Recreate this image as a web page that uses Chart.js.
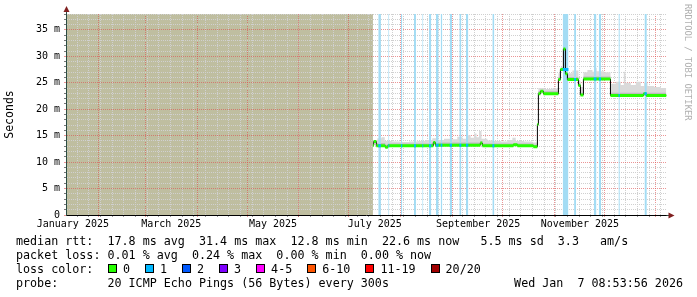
<!DOCTYPE html>
<html>
<head>
<meta charset="utf-8">
<script src="https://cdn.jsdelivr.net/npm/chart.js@4.4.1/dist/chart.umd.min.js"></script>
<style>
  body { margin: 0; background: #fff; }
  #wrap { position: relative; width: 697px; height: 297px; overflow: hidden; }
  canvas { position: absolute; left: 0; top: 0; }
  .txt { position: absolute; left: 16px; font-family: "DejaVu Sans Mono", monospace; font-size: 11.7px; line-height: 14px; white-space: pre; color: #000; }
  .box { display: inline-block; width: 7px; height: 7px; border: 1px solid #000; margin-left: 15px; }
  .lbl { margin-left: 6px; }
  #mark { position: absolute; left: 683px; top: 4px; writing-mode: vertical-rl; font-family: "DejaVu Sans Mono", monospace; font-size: 8.8px; line-height: 9px; color: #b0b0b0; white-space: pre; }
</style>
</head>
<body>
<div id="wrap">
  <canvas id="myChart" width="697" height="297"></canvas>
  <div id="mark">RRDTOOL / TOBI OETIKER</div>
  <div class="txt" style="top:234px">median rtt:  17.8 ms avg  31.4 ms max  12.8 ms min  22.6 ms now   5.5 ms sd  3.3   am/s</div>
  <div class="txt" style="top:248px">packet loss: 0.01 % avg  0.24 % max  0.00 % min  0.00 % now</div>
  <div class="txt" id="lossRow" style="top:262px">loss color:</div>
  <div class="txt" style="top:276px">probe:       20 ICMP Echo Pings (56 Bytes) every 300s</div>
  <div class="txt" style="top:276px; left:auto; right:14px">Wed Jan  7 08:53:56 2026</div>
</div>
<script>
// x values are days since 2025-01-01, y values are milliseconds
let viewStart = 11.4;
let viewEnd = 371.4;
let unknownEnd = 195.4; // nothing recorded before this
let yMax = 38;

// median rtt, one value per step (value holds until the next day)
let medianDays = [195.4, 195.9, 197.4, 202.8, 204.3, 231.6, 232.8, 259.8, 261.0, 279.6, 282.0, 291.6,
  294.0, 294.6, 295.8, 297.6, 306.6, 307.8, 309.6, 310.8, 312.0, 318.6, 319.8, 321.6, 337.8, 357.6, 359.2];
let medianMs = [13.2, 13.9, 13.1, 12.8, 13.1, 13.7, 13.2, 13.6, 13.1, 13.3, 13.1, 12.9,
  17.1, 22.9, 23.4, 22.9, 25.6, 27.5, 31.4, 26.7, 25.6, 24.5, 22.7, 25.7, 22.6, 22.9, 22.6];

// smoke (spread of the 20 pings) upper edge
let smokeDays = [195.4, 198, 200.5, 202.5, 207, 212, 217, 222, 227, 231, 234, 238, 242, 246, 249, 252, 254, 256,
  257.5, 259, 260.5, 264, 268, 272, 276, 279, 281, 286, 291, 294, 294.6, 298, 302, 306.6, 308, 309.6, 310.8,
  312, 315, 318.6, 319.8, 321.6, 324, 327, 328.5, 329.5, 331, 334, 337.8, 341, 344, 345.8, 346.8, 350, 353,
  356, 358, 360, 364, 368];
let smokeTop = [14.2, 14.5, 14.7, 14.0, 13.9, 13.8, 13.9, 14.0, 14.2, 14.5, 14.2, 14.4, 14.3, 14.8, 14.4, 15.1, 14.6, 15.4,
  14.7, 15.9, 14.4, 14.1, 14.0, 13.9, 14.2, 14.6, 14.0, 13.9, 13.7, 17.3, 24.0, 23.8, 23.9, 26.8, 28.0, 32.6, 27.5,
  26.8, 27.3, 25.4, 24.2, 27.0, 27.4, 27.1, 27.8, 27.2, 27.2, 27.0, 24.8, 25.2, 24.6, 27.1, 25.0, 24.6, 25.2,
  24.4, 25.0, 24.4, 24.2, 24.0];

// denser core of the smoke
let smokeMidDays = [195.4, 202.8, 204.3, 231.6, 232.8, 259.8, 261.0, 291.6, 294.0, 294.6, 306.6, 309.6, 310.8,
  312.0, 318.6, 319.8, 321.6, 337.8];
let smokeMid = [13.6, 13.3, 13.5, 13.9, 13.7, 14.0, 13.5, 13.3, 17.1, 23.4, 26.1, 31.6, 26.9,
  26.1, 25.0, 23.1, 26.2, 23.1];

// periods with packet loss (1 of 20)
let lossStart = [198.6, 204.6, 212.2, 220.0, 225.0, 229.0, 233.2, 236.0, 241.4, 247.2, 251.2, 267.0,
  309.2, 316.0, 327.8, 330.8, 342.6, 358.2];
let lossEnd = [200.2, 205.2, 213.0, 221.2, 225.6, 230.4, 234.8, 237.0, 242.8, 248.4, 252.6, 268.2,
  312.6, 317.2, 329.4, 332.2, 343.4, 359.6];

let monthStarts = [31, 59, 90, 120, 151, 181, 212, 243, 273, 304, 334, 365];
let monthLabelDays = [15.5, 74.5, 135.5, 196.5, 258.5, 319.5];
let monthLabels = ["January 2025", "March 2025", "May 2025", "July 2025", "September 2025", "November 2025"];

let lossNames = ["0", "1", "2", "3", "4-5", "6-10", "11-19", "20/20"];
let lossColors = ["#26ff00", "#00b8ff", "#0059ff", "#7e00ff", "#ff00ff", "#ff5500", "#ff0000", "#a00000"];

let majorGrid = "rgba(222,79,79,0.6)";
let minorGrid = "#d0d0d0";

// legend boxes
let lossRow = document.getElementById("lossRow");
lossNames.forEach((name, i) => {
  let box = document.createElement("span");
  box.className = "box";
  box.style.background = lossColors[i];
  if (i === 0) box.style.marginLeft = "14.5px";
  lossRow.appendChild(box);
  let lbl = document.createElement("span");
  lbl.className = "lbl";
  lbl.textContent = name;
  lossRow.appendChild(lbl);
});

function stepPoints(days, vals) {
  let pts = days.map((d, i) => ({ x: d, y: vals[i] }));
  pts.push({ x: viewEnd, y: vals[vals.length - 1] });
  return pts;
}

function medianAt(d) {
  let v = medianMs[0];
  medianDays.forEach((md, i) => { if (md <= d) v = medianMs[i]; });
  return v;
}

// flat pieces only, the black line does the jumps
let greenPts = [];
medianDays.forEach((d, i) => {
  let next = i + 1 < medianDays.length ? medianDays[i + 1] : viewEnd;
  greenPts.push({ x: d, y: medianMs[i] }, { x: next, y: medianMs[i] }, { x: next, y: null });
});

let lossPts = [];
let lossMedianPts = [];
lossStart.forEach((s, i) => {
  lossPts.push({ x: s, y: yMax }, { x: lossEnd[i], y: yMax }, { x: lossEnd[i], y: null });
  let v = medianAt(s);
  lossMedianPts.push({ x: s, y: v }, { x: lossEnd[i], y: v }, { x: lossEnd[i], y: null });
});

let weekTicks = [];
for (let d = 4; d < viewEnd; d += 7) if (d > viewStart) weekTicks.push(d);

let rrdPlugin = {
  id: "rrd",
  beforeDraw(chart) {
    let { ctx, chartArea, scales } = chart;
    let x0 = scales.x.getPixelForValue(viewStart);
    let x1 = scales.x.getPixelForValue(unknownEnd);
    ctx.save();
    ctx.fillStyle = "#bfbea0";
    ctx.fillRect(x0, chartArea.top, x1 - x0, chartArea.bottom - chartArea.top);
    ctx.restore();
  },
  afterDraw(chart) {
    let { ctx, chartArea: a } = chart;
    let lx = Math.floor(a.left) + 0.5;
    let by = Math.floor(a.bottom) + 0.5;
    ctx.save();
    ctx.strokeStyle = "#2c4d43";
    ctx.lineWidth = 1;
    ctx.beginPath();
    ctx.moveTo(lx, a.top);
    ctx.lineTo(lx, a.top - 3);
    ctx.moveTo(a.right, by);
    ctx.lineTo(a.right + 3, by);
    ctx.stroke();
    ctx.fillStyle = "#802020";
    ctx.beginPath();
    ctx.moveTo(lx, a.top - 8);
    ctx.lineTo(lx - 3, a.top - 2);
    ctx.lineTo(lx + 3, a.top - 2);
    ctx.fill();
    ctx.beginPath();
    ctx.moveTo(a.right + 8, by);
    ctx.lineTo(a.right + 2, by - 3);
    ctx.lineTo(a.right + 2, by + 3);
    ctx.fill();
    ctx.restore();
  },
};

let monoFont = { family: "'DejaVu Sans Mono', monospace", size: 10 };

let smokepingChart = new Chart(document.getElementById("myChart"), {
  type: "line",
  data: {
    datasets: [
      {
        data: stepPoints(smokeDays, smokeTop),
        stepped: true,
        borderWidth: 0,
        pointRadius: 0,
        fill: { target: 3, above: "#dadada", below: "rgba(0,0,0,0)" },
        order: 6,
      },
      {
        data: stepPoints(smokeMidDays, smokeMid),
        stepped: true,
        borderWidth: 0,
        pointRadius: 0,
        fill: { target: 3, above: "#bcbcbc", below: "rgba(0,0,0,0)" },
        order: 5,
      },
      {
        data: lossPts,
        borderWidth: 0,
        pointRadius: 0,
        backgroundColor: "#a3dcf4",
        fill: "origin",
        order: 4,
      },
      {
        data: stepPoints(medianDays, medianMs),
        stepped: true,
        borderColor: "#000",
        borderWidth: 1,
        pointRadius: 0,
        fill: false,
        order: 3,
      },
      {
        data: greenPts,
        borderColor: lossColors[0],
        borderWidth: 3,
        borderCapStyle: "butt",
        pointRadius: 0,
        fill: false,
        order: 2,
      },
      {
        data: lossMedianPts,
        borderColor: lossColors[1],
        borderWidth: 3,
        borderCapStyle: "butt",
        pointRadius: 0,
        fill: false,
        order: 1,
      },
    ],
  },
  options: {
    responsive: false,
    devicePixelRatio: 1,
    animation: false,
    events: [],
    layout: { padding: { left: 0, top: 14, right: 30.5, bottom: 62 } },
    plugins: { legend: { display: false }, tooltip: { enabled: false } },
    scales: {
      x: {
        type: "linear",
        min: viewStart,
        max: viewEnd,
        afterBuildTicks(scale) {
          let t = [];
          weekTicks.forEach((v) => t.push({ value: v, kind: "week" }));
          monthStarts.forEach((v) => t.push({ value: v, kind: "month" }));
          monthLabelDays.forEach((v, i) => t.push({ value: v, kind: "label", text: monthLabels[i] }));
          t.sort((a, b) => a.value - b.value);
          scale.ticks = t;
        },
        afterFit(scale) {
          scale.height = 20;
        },
        ticks: {
          autoSkip: false,
          maxRotation: 0,
          padding: 1,
          color: "#000",
          font: monoFont,
          callback: function (value, index, ticks) {
            return ticks[index].text || "";
          },
        },
        grid: {
          color: (c) => (c.tick && c.tick.kind === "month" ? majorGrid : c.tick && c.tick.kind === "week" ? minorGrid : "rgba(0,0,0,0)"),
          tickColor: (c) => (c.tick && c.tick.kind === "month" ? majorGrid : c.tick && c.tick.kind === "week" ? "#999" : "rgba(0,0,0,0)"),
          tickLength: 2,
        },
        border: { display: true, color: "#000", width: 1, dash: [1, 1] },
      },
      y: {
        type: "linear",
        min: 0,
        max: yMax,
        afterBuildTicks(scale) {
          let t = [];
          for (let v = 0; v <= yMax; v++) t.push({ value: v });
          scale.ticks = t;
        },
        afterFit(scale) {
          scale.width = 66;
        },
        ticks: {
          autoSkip: false,
          padding: 4,
          color: "#000",
          font: monoFont,
          callback: (v) => (v % 5 === 0 ? (v === 0 ? "0" : v + " m") : ""),
        },
        grid: {
          color: (c) => (c.tick && c.tick.value % 5 === 0 ? majorGrid : minorGrid),
          tickColor: (c) => (c.tick && c.tick.value % 5 === 0 ? majorGrid : "#777"),
          tickLength: 2,
        },
        border: { display: true, color: "#2c4d43", width: 1, dash: [1, 1] },
        title: {
          display: true,
          text: "Seconds",
          color: "#000",
          font: { family: "'DejaVu Sans Mono', monospace", size: 11.5 },
          padding: { top: 3, bottom: 0 },
        },
      },
    },
  },
  plugins: [rrdPlugin],
});
</script>
</body>
</html>
